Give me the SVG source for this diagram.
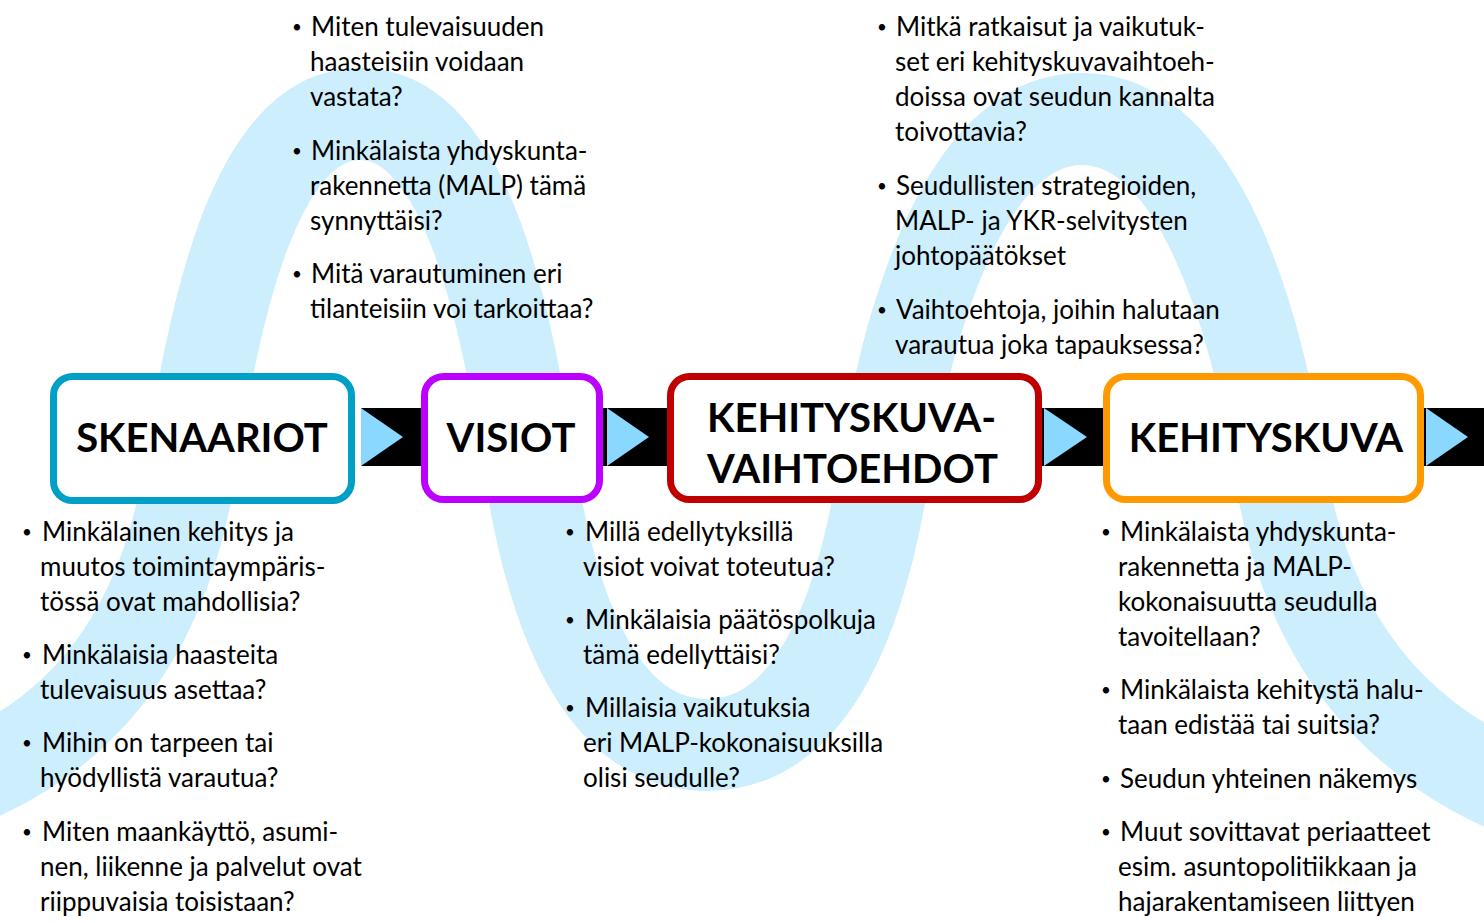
<svg xmlns="http://www.w3.org/2000/svg" width="1484" height="923" viewBox="0 0 1484 923">
<style>
.band{fill:none;stroke:#cdeefd;stroke-width:92}
.box{fill:#fff;stroke-width:7}
.lbl{font-family:Lato,"Open Sans",sans-serif;font-weight:700;font-size:40px;fill:#000}
.t{font-family:Lato,"Open Sans",sans-serif;font-size:26px;fill:#000}
.b{font-size:17px}
.ar{fill:#000}
.tri{fill:#8ad8ff}
</style>
<rect width="1484" height="923" fill="#fff"/>
<path class="band" d="M -60,790 Q 150,720 190,470 C 212,330 250,114 360,114 C 470,114 508,330 530,470 C 552,610 600,745 707,745 C 814,745 862,610 884,470 C 906,330 962,119 1082,119 C 1202,119 1258,330 1280,470 Q 1319,720 1540,800"/>
<g id="connectors">
<g id="a1"><rect class="ar" x="361" y="408" width="60" height="58"/><polygon class="tri" points="361,408 403,437 361,466"/></g>
<g id="a2"><rect class="ar" x="603" y="408" width="66" height="58"/><polygon class="tri" points="607,408 649,437 607,466"/></g>
<g id="a3"><rect class="ar" x="1042" y="408" width="62" height="58"/><polygon class="tri" points="1044,408 1087,437 1044,466"/></g>
<g id="a4"><rect class="ar" x="1424" y="408" width="60" height="58"/><polygon class="tri" points="1426,408 1468,437 1426,466"/></g>
</g>
<g id="skenaariot"><rect class="box" x="53.5" y="376.5" width="298" height="124" rx="19" stroke="#00a0c6"/><text class="lbl" x="202" y="452" text-anchor="middle">SKENAARIOT</text></g>
<g id="visiot"><rect class="box" x="424.5" y="376.5" width="175" height="123" rx="19" stroke="#bb00ff"/><text class="lbl" x="511" y="452" text-anchor="middle">VISIOT</text></g>
<g id="vaihtoehdot"><rect class="box" x="670.5" y="376.5" width="368" height="123" rx="19" stroke="#c00000"/><text class="lbl" x="707" y="432">KEHITYSKUVA-</text><text class="lbl" x="707" y="483">VAIHTOEHDOT</text></g>
<g id="kehityskuva"><rect class="box" x="1106.5" y="376.5" width="314" height="123" rx="19" stroke="#ff9900"/><text class="lbl" x="1266" y="452" text-anchor="middle">KEHITYSKUVA</text></g>
<g id="list-visiot-top" class="t">
<text class="b" x="292" y="33">•</text><text x="311" y="36">Miten tulevaisuuden</text>
<text x="310" y="71">haasteisiin voidaan</text>
<text x="310" y="106">vastata?</text>
<text class="b" x="292" y="157">•</text><text x="311" y="160">Minkälaista yhdyskunta-</text>
<text x="310" y="195">rakennetta (MALP) tämä</text>
<text x="310" y="230">synnyttäisi?</text>
<text class="b" x="292" y="280">•</text><text x="311" y="283">Mitä varautuminen eri</text>
<text x="310" y="318">tilanteisiin voi tarkoittaa?</text>
</g>
<g id="list-vaihtoehdot-top" class="t">
<text class="b" x="877" y="33">•</text><text x="896" y="36">Mitkä ratkaisut ja vaikutuk-</text>
<text x="895" y="71">set eri kehityskuvavaihtoeh-</text>
<text x="895" y="106">doissa ovat seudun kannalta</text>
<text x="895" y="141">toivottavia?</text>
<text class="b" x="877" y="192">•</text><text x="896" y="195">Seudullisten strategioiden,</text>
<text x="895" y="230">MALP- ja YKR-selvitysten</text>
<text x="895" y="265">johtopäätökset</text>
<text class="b" x="877" y="316">•</text><text x="896" y="319">Vaihtoehtoja, joihin halutaan</text>
<text x="895" y="354">varautua joka tapauksessa?</text>
</g>
<g id="list-skenaariot" class="t">
<text class="b" x="22" y="538">•</text><text x="42" y="541">Minkälainen kehitys ja</text>
<text x="40" y="576">muutos toimintaympäris-</text>
<text x="40" y="611">tössä ovat mahdollisia?</text>
<text class="b" x="22" y="661">•</text><text x="42" y="664">Minkälaisia haasteita</text>
<text x="40" y="699">tulevaisuus asettaa?</text>
<text class="b" x="22" y="749">•</text><text x="42" y="752">Mihin on tarpeen tai</text>
<text x="40" y="787">hyödyllistä varautua?</text>
<text class="b" x="22" y="838">•</text><text x="42" y="841">Miten maankäyttö, asumi-</text>
<text x="40" y="876">nen, liikenne ja palvelut ovat</text>
<text x="40" y="911">riippuvaisia toisistaan?</text>
</g>
<g id="list-visiot-bottom" class="t">
<text class="b" x="565" y="538">•</text><text x="585" y="541">Millä edellytyksillä</text>
<text x="583" y="576">visiot voivat toteutua?</text>
<text class="b" x="565" y="626">•</text><text x="585" y="629">Minkälaisia päätöspolkuja</text>
<text x="583" y="664">tämä edellyttäisi?</text>
<text class="b" x="565" y="714">•</text><text x="585" y="717">Millaisia vaikutuksia</text>
<text x="583" y="752">eri MALP-kokonaisuuksilla</text>
<text x="583" y="787">olisi seudulle?</text>
</g>
<g id="list-kehityskuva" class="t">
<text class="b" x="1101" y="538">•</text><text x="1120" y="541">Minkälaista yhdyskunta-</text>
<text x="1118" y="576">rakennetta ja MALP-</text>
<text x="1118" y="611">kokonaisuutta seudulla</text>
<text x="1118" y="646">tavoitellaan?</text>
<text class="b" x="1101" y="696">•</text><text x="1120" y="699">Minkälaista kehitystä halu-</text>
<text x="1118" y="734">taan edistää tai suitsia?</text>
<text class="b" x="1101" y="785">•</text><text x="1120" y="788">Seudun yhteinen näkemys</text>
<text class="b" x="1101" y="838">•</text><text x="1120" y="841">Muut sovittavat periaatteet</text>
<text x="1118" y="876">esim. asuntopolitiikkaan ja</text>
<text x="1118" y="911">hajarakentamiseen liittyen</text>
</g>
</svg>
